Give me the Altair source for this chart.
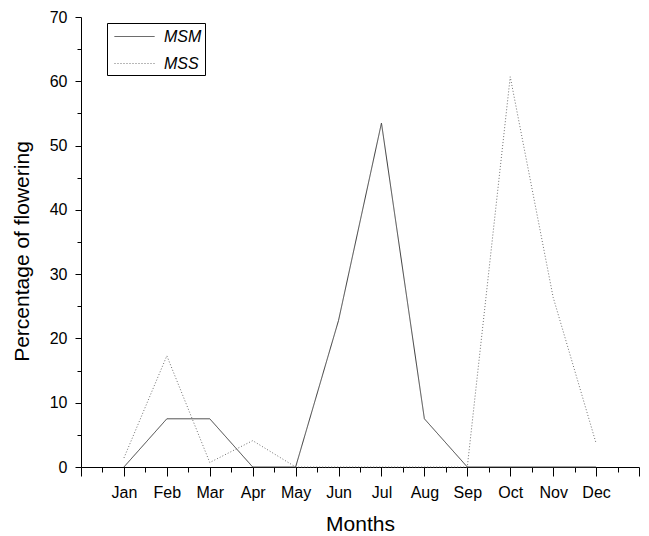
import altair as alt
import pandas as pd

months = ["Jan", "Feb", "Mar", "Apr", "May", "Jun", "Jul", "Aug", "Sep", "Oct", "Nov", "Dec"]
msm = [0, 7.5, 7.5, 0, 0, 22.8, 53.5, 7.5, 0, 0, 0, 0]
mss = [1.4, 17.3, 0.7, 4.1, 0, 0, 0, 0, 0, 60.7, 26.4, 3.7]
series_names = ["MSM", "MSS"]

rows = []
for i, m in enumerate(months):
    rows.append({"idx": i + 1, "month": m, "series": "MSM", "value": msm[i]})
for i, m in enumerate(months):
    rows.append({"idx": i + 1, "month": m, "series": "MSS", "value": mss[i]})
df = pd.DataFrame(rows)

FONT = "Liberation Sans"
month_arr = "[" + ",".join("'" + m + "'" for m in months) + "]"
label_expr = f"(datum.value >= 1 && datum.value <= {len(months)}) ? {month_arr}[datum.value - 1] : ''"

xscale = alt.Scale(domain=[0, 13], nice=False, zero=False)
yscale = alt.Scale(domain=[0, 70], nice=False)

common_axis = dict(grid=False, domainColor="black", tickColor="black", labelColor="black",
                   titleColor="black", labelFont=FONT, titleFont=FONT, domainWidth=1, tickWidth=1)

legend_opts = dict(title=None, orient="none", legendX=26, legendY=6,
                   strokeColor="black", padding=3, symbolType="M-0.6,0L3.4,0",
                   symbolSize=400, symbolStrokeWidth=1, labelFont=FONT,
                   labelFontSize=16, labelFontStyle="italic", labelColor="black",
                   labelOffset=33, rowPadding=8, fillColor="white")

lines = alt.Chart(df).mark_line(strokeWidth=1).encode(
    x=alt.X("idx:Q", scale=xscale,
            axis=alt.Axis(values=list(range(0, 14)), labelExpr=label_expr, tickSize=9,
                          labelFontSize=16, labelPadding=8, title="Months", titleFontSize=21,
                          titleFontWeight="normal", titlePadding=13, orient="bottom",
                          labelOverlap=False, **common_axis)),
    y=alt.Y("value:Q", scale=yscale,
            axis=alt.Axis(values=list(range(0, 71, 10)), tickSize=6, labelFontSize=16,
                          labelPadding=8, title="Percentage of flowering", titleFontSize=21,
                          titleFontWeight="normal", titlePadding=17, titleY=234,
                          orient="left", **common_axis)),
    color=alt.Color("series:N", scale=alt.Scale(domain=series_names, range=["#3c3c3c", "#707070"]),
                    legend=alt.Legend(**legend_opts)),
    strokeDash=alt.StrokeDash("series:N", scale=alt.Scale(domain=series_names, range=[[1, 0], [1, 2]]),
                              legend=alt.Legend(**legend_opts)),
)

minor = alt.Chart(df).mark_point(opacity=0).encode(
    x=alt.X("idx:Q", scale=xscale,
            axis=alt.Axis(values=[i + 0.5 for i in range(0, 13)], labels=False, domain=False,
                          tickSize=5, title=None, orient="bottom", grid=False, tickColor="black")),
    y=alt.Y("value:Q", scale=yscale,
            axis=alt.Axis(values=list(range(5, 70, 10)), labels=False, domain=False,
                          tickSize=4, title=None, orient="left", grid=False, tickColor="black")),
)

chart = alt.layer(lines, minor).resolve_axis(x="independent", y="independent").properties(
    width=558, height=450,
    autosize=alt.AutoSizeParams(type="none"),
    padding={"left": 81, "top": 17, "right": 10, "bottom": 69},
    background="white",
).configure_view(stroke=None)

chart.save("out.html", embed_options={"renderer": "svg", "actions": False})
